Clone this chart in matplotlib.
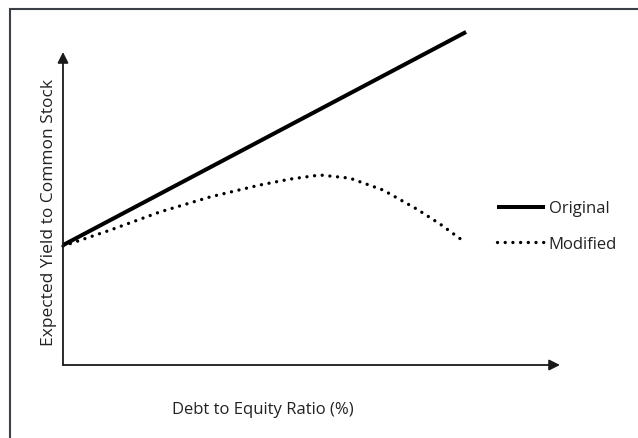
import matplotlib.pyplot as plt
from matplotlib.patches import Rectangle

# values (x: debt to equity %, y: yield in arbitrary units)
orig_x = [0, 81.1]
orig_y = [38.3, 106.4]
mod_x = [0, 9.5, 19.5, 29.6, 39.6, 45.7, 51.7, 57.7, 64.4, 71.2, 75.9, 80.3]
mod_y = [38.0, 43.1, 48.9, 53.7, 57.5, 59.4, 60.7, 59.7, 55.9, 49.8, 45.0, 39.9]
labels = ['Original', 'Modified']

plt.rcParams['font.family'] = ['Open Sans', 'DejaVu Sans']

fig = plt.figure(figsize=(6.38, 4.39), dpi=100)
ax = fig.add_axes([63/638, 73/439, 497/638, 313/439])
ax.set_xlim(0, 100)
ax.set_ylim(0, 100)
for s in ax.spines.values():
    s.set_visible(False)
ax.set_xticks([])
ax.set_yticks([])

# axes with arrows
arr = dict(arrowstyle='-|>', color='#1a1a1a', lw=1.3, mutation_scale=16, shrinkA=0, shrinkB=0)
ax.annotate('', xy=(1, 0), xytext=(0, 0), xycoords='axes fraction', arrowprops=arr)
ax.annotate('', xy=(0, 1), xytext=(0, 0), xycoords='axes fraction', arrowprops=arr)

l1, = ax.plot(orig_x, orig_y, color='black', lw=2.9, solid_capstyle='butt', clip_on=False)
l2, = ax.plot(mod_x, mod_y, color='black', lw=2.4, linestyle=(0, (0.01, 2.3)),
              dash_capstyle='round', clip_on=False)

ax.legend([l1, l2], labels, loc='center left', bbox_to_anchor=(497/638, 212/439),
          bbox_transform=fig.transFigure, frameon=False, fontsize=12,
          handlelength=2.9, handletextpad=0.2, labelspacing=1.15, borderpad=0, borderaxespad=0,
          labelcolor='#222222')

ax.set_xlabel('Debt to Equity Ratio (%)', fontsize=12, color='#222222')
ax.set_ylabel('Expected Yield to Common Stock', fontsize=12.5, color='#222222')
ax.xaxis.set_label_coords(0.402, -0.115)
ax.yaxis.set_label_coords(-0.012, 0.49)

# outer frame
fig.add_artist(Rectangle((10/638, -0.05), 1.0, (429/439) + 0.05, transform=fig.transFigure,
                         fill=False, edgecolor='#3a3f48', lw=1.5))

fig.savefig('out.png', dpi=100)
